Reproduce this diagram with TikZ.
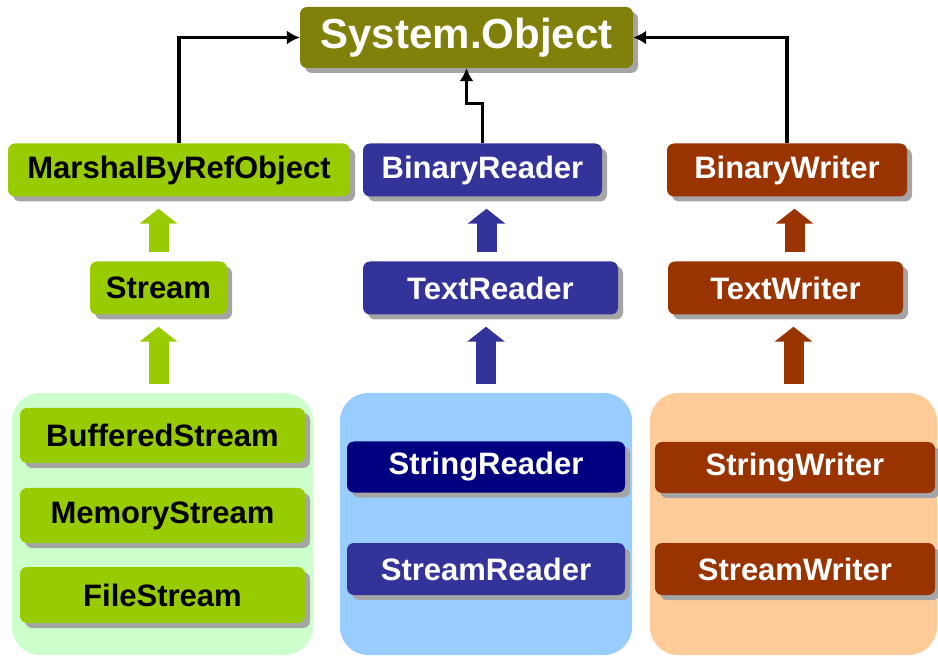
\documentclass[tikz,border=0pt]{standalone}
\usepackage{fontspec}
\setmainfont{Liberation Sans}
\usetikzlibrary{positioning, arrows.meta, shadows, calc}

\begin{document}
\begin{tikzpicture}[x=1pt, y=-1pt,
    % class boxes: bold sans text, grey drop shadow
    cls/.style={rectangle, rounded corners=7pt, inner sep=0pt,
                font=\fontsize{31}{36}\selectfont\bfseries, text=white,
                minimum height=53pt,
                drop shadow={shadow xshift=5pt, shadow yshift=-5pt,
                             fill=shadowC, opacity=1}},
    greenbox/.style={cls, fill=greenC, text=black},
    bluebox/.style={cls, fill=blueC},
    navybox/.style={cls, fill=navyC},
    brownbox/.style={cls, fill=brownC},
    % pale panels behind the concrete classes
    group/.style={rectangle, rounded corners=28pt, inner sep=0pt,
                  minimum height=262pt},
    % thin black inheritance links and fat coloured arrows
    link/.style={line width=3.5pt, -{Latex[length=13pt, width=14pt]}},
    fat/.style={line width=20pt, -{Triangle[length=15pt, width=37pt]},
                shorten <=9pt, shorten >=12pt}
]

\definecolor{oliveC}{RGB}{128,128,10}
\definecolor{greenC}{RGB}{153,204,0}
\definecolor{blueC}{RGB}{51,51,153}
\definecolor{navyC}{RGB}{0,0,128}
\definecolor{brownC}{RGB}{153,51,0}
\definecolor{lgreenC}{RGB}{204,255,204}
\definecolor{lblueC}{RGB}{153,204,255}
\definecolor{lorangeC}{RGB}{255,204,153}
\definecolor{shadowC}{RGB}{165,165,165}

\useasboundingbox (0,0) rectangle (938,660);

% root
\node[cls, fill=oliveC, minimum width=333pt, minimum height=61pt,
      font=\fontsize{42}{48}\selectfont\bfseries] (sysobj) at (466.5,37.5) {System.Object};

% second row
\node[greenbox, minimum width=342pt] (mbro) at (179,170) {MarshalByRefObject};
\node[bluebox, minimum width=239pt] (breader) at (482.5,170) {BinaryReader};
\node[brownbox, minimum width=240pt] (bwriter) at (787,170) {BinaryWriter};

% third row
\node[greenbox, minimum width=137pt] (stream) at (158.5,288) {Stream};
\node[bluebox, minimum width=255pt] (treader) at (490.5,288) {TextReader};
\node[brownbox, minimum width=235pt] (twriter) at (785.5,288) {TextWriter};

% panels
\node[group, fill=lgreenC, minimum width=301pt] (grpG) at (162.5,524) {};
\node[group, fill=lblueC, minimum width=292pt] (grpB) at (486,524) {};
\node[group, fill=lorangeC, minimum width=287pt] (grpO) at (793.5,524) {};

% concrete streams
\node[greenbox, minimum width=285pt, minimum height=55pt] (buffered) at (162.5,435.5) {BufferedStream};
\node[greenbox, minimum width=285pt, minimum height=55pt] (memory) at (162.5,515.5) {MemoryStream};
\node[greenbox, minimum width=285pt, minimum height=56pt] (file) at (162.5,595) {FileStream};

% concrete readers and writers
\node[navybox, minimum width=278pt, minimum height=51pt] (sreader) at (486,467) {StringReader};
\node[bluebox, minimum width=278pt, minimum height=52pt] (stmreader) at (486,569) {StreamReader};
\node[brownbox, minimum width=280pt, minimum height=51pt] (swriter) at (795,467.5) {StringWriter};
\node[brownbox, minimum width=280pt, minimum height=52pt] (stmwriter) at (795,569) {StreamWriter};

% links to System.Object
\draw[link] (mbro.north) |- (sysobj.west);
\draw[link] (breader.north) -- ++(0,-40) -| (sysobj.south);
\draw[link] (bwriter.north) |- (sysobj.east);

% fat arrows
\draw[fat, greenC] (stream.north) -- (stream.north |- mbro.south);
\draw[fat, greenC] (stream.south |- grpG.north) -- (stream.south);
\draw[fat, blueC] ([xshift=-4pt]treader.north) -- ([xshift=-4pt]treader.north |- breader.south);
\draw[fat, blueC] (grpB.north) -- (grpB.north |- treader.south);
\draw[fat, brownC] ([xshift=9pt]twriter.north) -- ([xshift=9pt]twriter.north |- bwriter.south);
\draw[fat, brownC] (grpO.north) -- (grpO.north |- twriter.south);

\end{tikzpicture}
\end{document}
